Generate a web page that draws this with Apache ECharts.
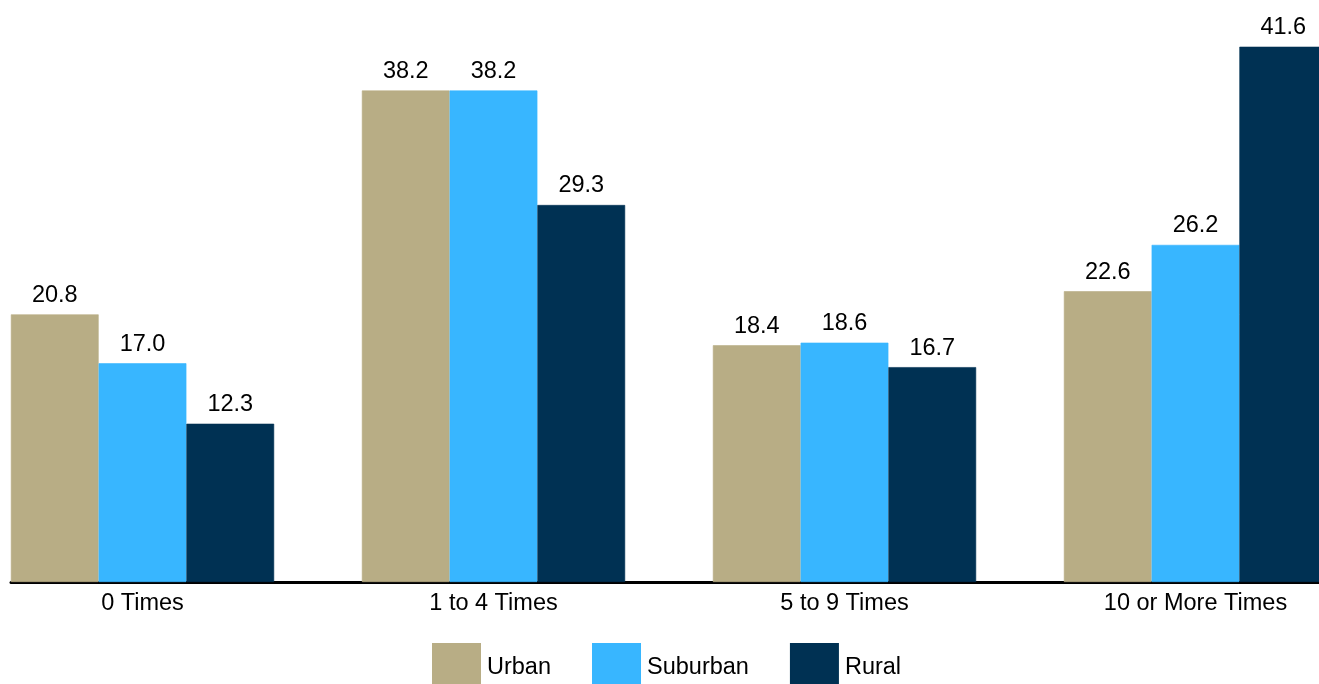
<!DOCTYPE html>
<html><head><meta charset="utf-8">
<script src="https://cdn.jsdelivr.net/npm/echarts@6/dist/echarts.min.js"></script>
<style>html,body{margin:0;padding:0;background:#fff}#c{width:1319px;height:684px}</style>
</head><body><div id="c"></div>
<script>
const categories = ['0 Times', '1 to 4 Times', '5 to 9 Times', '10 or More Times'];
const seriesNames = ['Urban', 'Suburban', 'Rural'];
const urban = [20.8, 38.2, 18.4, 22.6];
const suburban = [17.0, 38.2, 18.6, 26.2];
const rural = [12.3, 29.3, 16.7, 41.6];
const colors = ['#B8AD85', '#38B6FF', '#003153'];
const values = [urban, suburban, rural];
const font = '"Liberation Sans", Arial, sans-serif';

const chart = echarts.init(document.getElementById('c'), null, {renderer: 'canvas'});
chart.setOption({
  animation: false,
  backgroundColor: '#fff',
  textStyle: {fontFamily: font},
  legend: {
    top: 638, left: 427,
    itemWidth: 47, itemHeight: 47, itemGap: 41,
    textStyle: {fontFamily: font, fontSize: 23.5, color: '#000', padding: [0, 0, 0, 2]},
    data: seriesNames.map((n, i) => ({name: n, icon: 'rect', itemStyle: {color: colors[i]}}))
  },
  grid: [
    {left: -33, right: -52, top: 3, bottom: 102, containLabel: false, outerBoundsMode: 'none'},
    {left: 11, right: -60, top: 3, bottom: 102, containLabel: false, outerBoundsMode: 'none'}
  ],
  xAxis: [
    {type: 'category', gridIndex: 0, data: categories,
     axisLine: {show: false}, axisTick: {show: false},
     axisLabel: {fontFamily: font, fontSize: 23.5, color: '#000', margin: 10}},
    {type: 'category', gridIndex: 1, data: [''],
     axisLine: {show: true, lineStyle: {color: '#000', width: 3}},
     axisTick: {show: false}, axisLabel: {show: false}}
  ],
  yAxis: [
    {type: 'value', gridIndex: 0, min: 0, max: 45, show: false, splitLine: {show: false}},
    {type: 'value', gridIndex: 1, min: 0, max: 1, show: false, splitLine: {show: false}}
  ],
  series: seriesNames.map((n, i) => ({
    name: n, type: 'bar', xAxisIndex: 0, yAxisIndex: 0,
    data: values[i],
    barGap: '0%', barCategoryGap: '25%',
    itemStyle: {color: colors[i], borderColor: colors[i], borderWidth: 0.6},
    label: {show: true, position: 'top', distance: 7, color: '#000',
      fontFamily: font, fontSize: 23.5,
      formatter: p => p.value.toFixed(1)}
  }))
});
</script></body></html>
